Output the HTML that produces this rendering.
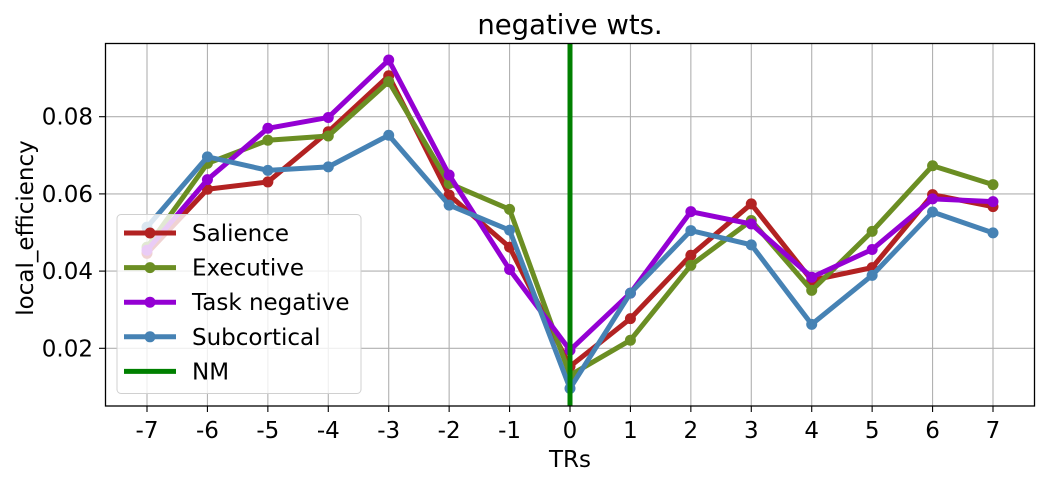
<!DOCTYPE html>
<html><head><meta charset="utf-8"><style>
body{margin:0;background:#fff;}
svg text{font-family:"DejaVu Sans","Liberation Sans",sans-serif;fill:#000;}
</style></head><body>
<svg id="chart" width="1047" height="482" xmlns="http://www.w3.org/2000/svg">
<g id="grid"></g>
<g id="series"></g>
<rect x="105.5" y="43.5" width="929" height="362.5" fill="none" stroke="#000" stroke-width="1.3"/>
<g id="ticks"></g>
<text x="570" y="34" font-size="27.5" text-anchor="middle">negative wts.</text>
<text x="570" y="467" font-size="23" text-anchor="middle">TRs</text>
<text x="33" y="228" font-size="23" text-anchor="middle" transform="rotate(-90 33 228)">local_efficiency</text>
<g id="legend"></g>
</svg>
<script>
const categories = [-7,-6,-5,-4,-3,-2,-1,0,1,2,3,4,5,6,7];
const salience = [0.0446,0.0612,0.0631,0.0761,0.0906,0.0597,0.0462,0.0153,0.0277,0.0441,0.0574,0.0376,0.0409,0.0598,0.0567];
const executive = [0.0462,0.0679,0.0739,0.0750,0.0891,0.0627,0.0560,0.0130,0.0221,0.0415,0.0531,0.0350,0.0503,0.0673,0.0624];
const taskNegative = [0.0454,0.0637,0.0770,0.0798,0.0947,0.0649,0.0404,0.0195,0.0343,0.0554,0.0522,0.0384,0.0456,0.0587,0.0580];
const subcortical = [0.0514,0.0696,0.0661,0.0670,0.0752,0.0571,0.0506,0.0096,0.0343,0.0505,0.0468,0.0262,0.0389,0.0553,0.0499];
const yTicks = [0.02,0.04,0.06,0.08];
const yTickLabels = ["0.02","0.04","0.06","0.08"];
const nmPosition = 0;
const seriesNames = ["Salience","Executive","Task negative","Subcortical","NM"];

const NS="http://www.w3.org/2000/svg";
function xs(v){return 147+(v+7)*(993-147)/14;}
function ys(v){return 348.3-(v-0.02)*3860;}
function mk(tag,attrs,parent){const e=document.createElementNS(NS,tag);for(const k in attrs)e.setAttribute(k,attrs[k]);parent.appendChild(e);return e;}
const grid=document.getElementById('grid'),ticks=document.getElementById('ticks'),ser=document.getElementById('series'),leg=document.getElementById('legend');
categories.forEach(c=>{
  const l=mk('line',{x1:xs(c),x2:xs(c),y1:43.5,y2:406,stroke:'#b0b0b0','stroke-width':1.1},grid);
  
  
  const t=mk('line',{x1:xs(c),x2:xs(c),y1:406,y2:412,stroke:'#000','stroke-width':1.1},ticks);
  
  
  const tx=mk('text',{x:xs(c),y:438,'font-size':23,'text-anchor':'middle'},ticks);
  tx.textContent=String(c);
  
  
});
yTicks.forEach((v,i)=>{
  const l=mk('line',{x1:105.5,x2:1034.5,y1:ys(v),y2:ys(v),stroke:'#b0b0b0','stroke-width':1.1},grid);
  
  
  const t=mk('line',{x1:99,x2:105.5,y1:ys(v),y2:ys(v),stroke:'#000','stroke-width':1.1},ticks);
  
  
  const tx=mk('text',{x:93,y:ys(v)+8,'font-size':23,'text-anchor':'end'},ticks);
  tx.textContent=yTickLabels[i];
  
  
});
const defs=[[salience,'#b22222','salience-line'],[executive,'#6b8e23','executive-line'],[taskNegative,'#9400d3','task-negative-line'],[subcortical,'#4682b4','subcortical-line']];
defs.forEach(([vals,col,name])=>{
  const g=mk('g',{},ser);
  
  
  const pts=vals.map((v,i)=>xs(categories[i])+','+ys(v)).join(' ');
  mk('polyline',{points:pts,fill:'none',stroke:col,'stroke-width':5,'stroke-linejoin':'round'},g);
  vals.forEach((v,i)=>{
    const c=mk('circle',{cx:xs(categories[i]),cy:ys(v),r:5.5,fill:col},g);
    
    
  });
});
const nm=mk('line',{x1:xs(nmPosition),x2:xs(nmPosition),y1:43.5,y2:406,stroke:'#008000','stroke-width':5},ser);


mk('rect',{x:117,y:214.5,width:244,height:179,rx:4,fill:'#fff','fill-opacity':0.8,stroke:'#d0d0d0','stroke-width':1},leg);
const lcols=['#b22222','#6b8e23','#9400d3','#4682b4','#008000'];
seriesNames.forEach((n,i)=>{
  const y=233+i*34.6;
  const g=mk('g',{},leg);
  
  
  mk('line',{x1:124,x2:176,y1:y,y2:y,stroke:lcols[i],'stroke-width':5},g);
  if(i<4)mk('circle',{cx:150,cy:y,r:5.5,fill:lcols[i]},g);
  const t=mk('text',{x:192,y:y+8,'font-size':23},g);
  t.textContent=n;
});
</script>
</body></html>
